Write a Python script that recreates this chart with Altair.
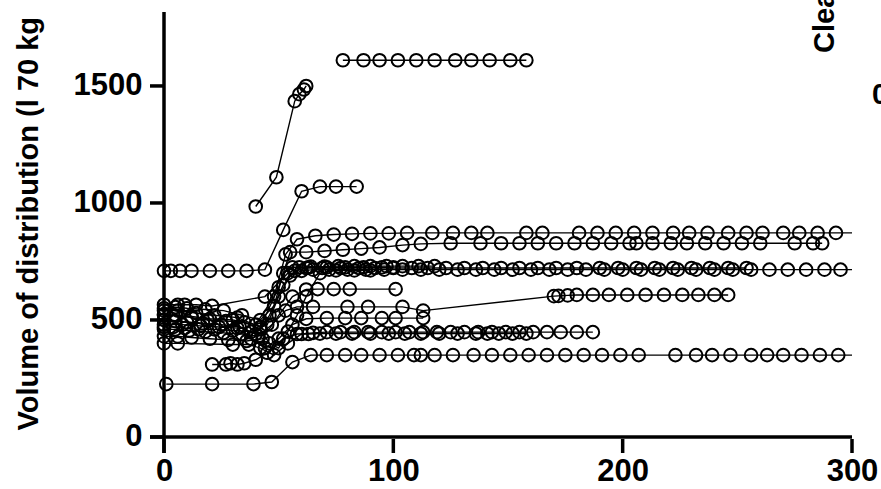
import altair as alt
import pandas as pd

# ---- data: (t, v) per subject ----
T1 = [78, 87, 94, 102, 110, 118, 127, 134, 142, 151, 158]
V1 = [1610, 1610, 1610, 1610, 1610, 1610, 1610, 1610, 1610, 1610, 1610]

T2 = [40, 49, 57, 59, 61, 62]
V2 = [985, 1110, 1435, 1465, 1485, 1500]

T3 = [0, 3, 7, 12, 20, 28, 36, 44, 52, 60, 68, 75, 84]
V3 = [710, 710, 710, 710, 710, 710, 710, 715, 885, 1050, 1070, 1070, 1070]

T4 = [0, 5, 12, 20, 30, 40, 48, 53, 58, 66, 74, 82, 90, 98, 106, 117, 126, 134, 141,
      158, 165, 181, 189, 197, 205, 213, 222, 229, 237, 246, 254, 261, 270, 277, 285, 293]
V4 = [520, 520, 515, 505, 500, 480, 600, 780, 845, 860, 865, 868, 870, 870, 872, 872, 872, 872, 872,
      872, 872, 872, 872, 872, 872, 872, 872, 872, 872, 872, 872, 872, 872, 872, 872, 872]

T5 = [0, 6, 14, 22, 32, 42, 50, 55, 62, 70, 78, 86, 94, 104, 112, 125, 138, 147, 155, 163,
      171, 179, 187, 195, 203, 206, 213, 221, 228, 236, 244, 252, 260, 275, 283, 287]
V5 = [540, 540, 530, 520, 510, 470, 640, 790, 790, 795, 800, 805, 810, 820, 825, 828, 828, 828, 828, 828,
      828, 828, 828, 828, 828, 828, 828, 828, 828, 828, 828, 828, 828, 828, 828, 828]

T6 = [0, 4, 9, 15, 22, 30, 38, 45, 50, 55, 60, 65, 72, 80, 88, 96, 104, 112, 120, 128, 136, 144,
      152, 160, 168, 176, 184, 192, 200, 208, 216, 224, 232, 240, 248, 256, 264, 272, 280, 288, 295]
V6 = [470, 470, 465, 460, 460, 455, 450, 480, 600, 690, 710, 715, 715, 715, 715, 715, 715, 715, 715, 715, 715, 715,
      715, 715, 715, 715, 715, 715, 715, 715, 715, 715, 715, 715, 715, 715, 715, 715, 715, 715, 715]

T7 = [0, 5, 10, 17, 25, 33, 40, 46, 52, 57, 62, 69, 77, 85, 92, 100, 108, 115, 123, 131, 139,
      147, 155, 163, 171, 180, 190, 198, 206, 214, 222, 230, 238, 246, 254]
V7 = [500, 495, 490, 485, 480, 470, 440, 520, 650, 710, 722, 722, 722, 722, 722, 722, 722, 722, 722, 722, 722,
      722, 722, 722, 722, 722, 722, 722, 722, 722, 722, 722, 722, 722, 722]

T8 = [0, 6, 9, 14, 21, 44, 54, 59, 64, 70, 76, 83, 90, 97, 104, 111, 118]
V8 = [565, 565, 565, 565, 560, 600, 700, 725, 728, 728, 730, 730, 730, 730, 730, 730, 730]

T9 = [0, 6, 12, 20, 28, 36, 43, 50, 56, 62, 67, 74, 81, 101]
V9 = [430, 430, 425, 420, 415, 410, 420, 520, 600, 630, 632, 632, 632, 632]

T10 = [0, 5, 11, 18, 26, 34, 41, 47, 53, 58, 65, 80, 89, 104, 113, 170, 172, 176, 180, 187,
       194, 202, 210, 218, 226, 233, 240, 246]
V10 = [460, 460, 455, 450, 445, 440, 430, 480, 540, 556, 556, 556, 556, 556, 540, 602, 603, 605, 607, 607,
       607, 607, 607, 607, 607, 607, 607, 607]

T11 = [0, 8, 16, 24, 32, 38, 44, 50, 56, 62, 71, 79, 86, 95, 101, 113]
V11 = [480, 480, 475, 470, 465, 420, 380, 420, 480, 505, 508, 508, 508, 508, 508, 508]

T12 = [0, 6, 30, 37, 42, 48, 54, 60, 65, 71, 77, 83, 89, 95, 101, 107, 113, 119, 125, 131, 137,
       143, 149, 155, 161, 167, 173, 180, 187]
V12 = [400, 400, 395, 395, 380, 350, 400, 440, 445, 448, 448, 448, 448, 448, 448, 448, 448, 448, 448, 448, 448,
       448, 448, 448, 448, 448, 448, 448, 448]

T13 = [21, 27, 29, 32, 35, 40, 45, 52, 58, 63, 68, 75, 82, 90, 98, 105, 112, 120, 128, 136, 141, 146, 152, 158]
V13 = [310, 310, 315, 310, 315, 330, 360, 420, 440, 440, 442, 442, 442, 442, 442, 442, 442, 442, 442, 442,
       442, 442, 442, 442]

T14 = [1, 21, 39, 47, 56, 64, 71, 79, 86, 94, 102, 109, 112, 118, 126, 135, 143, 151, 159, 167, 175,
       183, 191, 199, 207, 223, 232, 239, 247, 256, 263, 270, 278, 286, 294]
V14 = [226, 226, 226, 235, 320, 350, 350, 350, 350, 350, 350, 350, 350, 350, 350, 350, 350, 350, 350, 350, 350,
       350, 350, 350, 350, 350, 350, 350, 350, 350, 350, 350, 350, 350, 350]

T15 = [0, 5, 10, 18, 26, 34, 42, 48, 52, 56, 63, 71, 79, 87, 95, 100]
V15 = [550, 555, 550, 545, 540, 520, 500, 560, 700, 725, 725, 725, 725, 725, 725, 725]

T16 = [0, 4, 12, 19, 27, 35, 42, 46, 50, 54, 58, 62, 68, 75, 83, 90]
V16 = [525, 520, 510, 500, 495, 490, 460, 400, 380, 450, 520, 600, 700, 712, 712, 712]

# line tails that reach the axis end without a marker
TAIL_ID = ["S4", "S6", "S14"]
TAIL_T = [300, 300, 300]
TAIL_V = [872, 715, 350]

X_TICKS = [0, 100, 200, 300]
Y_TICKS = [0, 500, 1000, 1500]

series = {
    "S1": (T1, V1), "S2": (T2, V2), "S3": (T3, V3), "S4": (T4, V4),
    "S5": (T5, V5), "S6": (T6, V6), "S7": (T7, V7), "S8": (T8, V8),
    "S9": (T9, V9), "S10": (T10, V10), "S11": (T11, V11), "S12": (T12, V12),
    "S13": (T13, V13), "S14": (T14, V14), "S15": (T15, V15), "S16": (T16, V16),
}

rows = []
for sid, (ts, vs) in series.items():
    for t, v in zip(ts, vs):
        rows.append({"id": sid, "t": t, "v": v})
pts = pd.DataFrame(rows)
tails = pd.DataFrame({"id": TAIL_ID, "t": TAIL_T, "v": TAIL_V})
lines_df = pd.concat([pts, tails], ignore_index=True)

FONT = "Liberation Sans"
W, H = 702, 441      # plot area incl. the 14 px tick zone on the left and bottom
TICK = 14
AXW = 3.5

# scale domains leave the tick zone (14 px) outside 0 on both axes
xscale = alt.Scale(domain=[-6.105, 300], nice=False, zero=False)
yscale = alt.Scale(domain=[-68.4, 1816], nice=False, zero=False)

xaxis = alt.Axis(values=X_TICKS, title=None, format="d", domain=False, ticks=False, tickSize=0,
                 grid=False, labelPadding=3, labelFlush=False)
yaxis = alt.Axis(values=Y_TICKS, title="Volume of distribution (l 70 kg", format="d",
                 domain=False, ticks=False, tickSize=0, grid=False,
                 labelPadding=8, titleAngle=-90,
                 titleAlign="left", titleBaseline="middle", titleX=-122, titleY=418)

lines = alt.Chart(lines_df).mark_line(color="black", strokeWidth=1.4).encode(
    x=alt.X("t:Q", scale=xscale, axis=xaxis),
    y=alt.Y("v:Q", scale=yscale, axis=yaxis),
    detail="id:N",
)
points = alt.Chart(pts).mark_point(shape="circle", filled=False, color="black", size=160,
                                   strokeWidth=2, opacity=1).encode(
    x=alt.X("t:Q", scale=xscale, axis=xaxis),
    y=alt.Y("v:Q", scale=yscale, axis=yaxis),
)

# axis lines and ticks, drawn as rules through the scales
ydomain = alt.Chart(pd.DataFrame({"t": [0]})).mark_rule(color="black", strokeWidth=AXW).encode(
    x=alt.X("t:Q", scale=xscale), y=alt.value(0), y2=alt.value(H))
xdomain = alt.Chart(pd.DataFrame({"v": [0]})).mark_rule(color="black", strokeWidth=AXW).encode(
    y=alt.Y("v:Q", scale=yscale), x=alt.value(0), x2=alt.value(W))
yticks = alt.Chart(pd.DataFrame({"v": Y_TICKS})).mark_rule(color="black", strokeWidth=AXW).encode(
    y=alt.Y("v:Q", scale=yscale), x=alt.value(0), x2=alt.value(TICK))
xticks = alt.Chart(pd.DataFrame({"t": X_TICKS})).mark_rule(color="black", strokeWidth=AXW).encode(
    x=alt.X("t:Q", scale=xscale), y=alt.value(H - TICK), y2=alt.value(H))

side = alt.Chart(pd.DataFrame({"s": ["Clearance"]})).mark_text(
    font=FONT, fontSize=29, fontWeight="bold", angle=270, align="left", baseline="middle",
    color="black").encode(text="s:N", x=alt.value(675), y=alt.value(41))
side2 = alt.Chart(pd.DataFrame({"s": ["0"]})).mark_text(
    font=FONT, fontSize=29, fontWeight="bold", align="left", baseline="middle",
    color="black").encode(text="s:N", x=alt.value(722), y=alt.value(83))

chart = alt.layer(lines, points, ydomain, xdomain, yticks, xticks, side, side2).properties(
    width=W, height=H,
    autosize=alt.AutoSizeParams(type="none"),
    padding={"left": 150, "top": 12, "right": 29, "bottom": 36},
).configure_view(strokeWidth=0).configure_axis(
    labelFontSize=31, labelFont=FONT, labelFontWeight="bold", labelColor="black",
    titleFont=FONT, titleFontSize=29, titleFontWeight="bold", titleColor="black",
)

chart.save("out.html", embed_options={"renderer": "svg", "actions": False})
